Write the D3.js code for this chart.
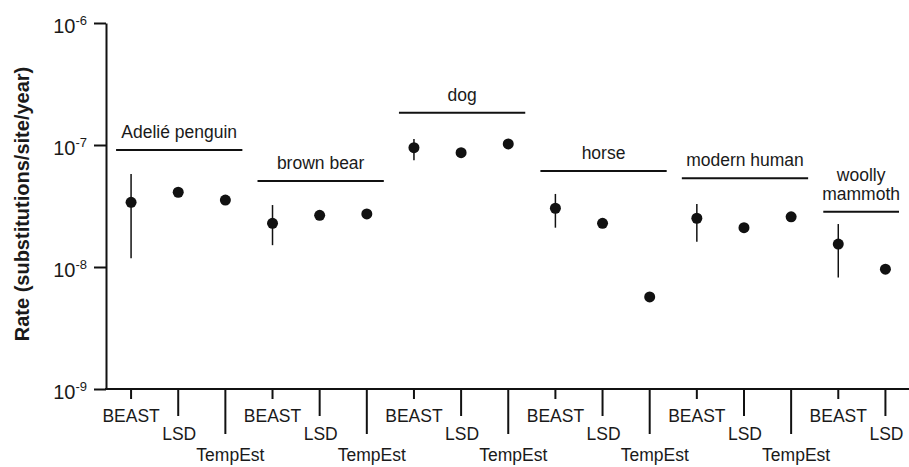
<!DOCTYPE html>
<html>
<head>
<meta charset="utf-8">
<script src="https://cdn.jsdelivr.net/npm/d3@7"></script>
<style>
  body { margin: 0; background: #fff; }
  text { font-family: "Liberation Sans", Arial, Helvetica, sans-serif; fill: #1a1a1a; }
</style>
</head>
<body>
<div id="chart"></div>
<script>
// data
var groups = ["Adelié penguin", "brown bear", "dog", "horse", "modern human", "woolly mammoth"];
var methods = ["BEAST", "LSD", "TempEst"];
var methodCount = [3, 3, 3, 3, 3, 2];
// point estimates per group, in method order
var rates = [
  [3.39e-8, 4.10e-8, 3.54e-8],
  [2.28e-8, 2.65e-8, 2.72e-8],
  [9.5e-8, 8.65e-8, 1.02e-7],
  [3.03e-8, 2.28e-8, 5.68e-9],
  [2.51e-8, 2.10e-8, 2.58e-8],
  [1.54e-8, 9.6e-9]
];
// BEAST credible intervals
var beastLower = [1.18e-8, 1.51e-8, 7.5e-8, 2.10e-8, 1.61e-8, 8.2e-9];
var beastUpper = [5.79e-8, 3.22e-8, 1.12e-7, 3.97e-8, 3.28e-8, 2.25e-8];
// height of the group label bar (rate units)
var groupBarRate = [9.1e-8, 5.07e-8, 1.84e-7, 6.12e-8, 5.33e-8, 2.84e-8];
var yTicks = [1e-9, 1e-8, 1e-7, 1e-6];

var svgWidth = 909;
var svgHeight = 467;

var svg = d3.select("#chart")
  .append("svg")
  .attr("width", svgWidth)
  .attr("height", svgHeight);

// flat list of slots along x
var slots = [];
groups.forEach(function(g, gi) {
  for (var m = 0; m < methodCount[gi]; m++) {
    slots.push({ key: gi + "-" + m, group: gi, method: methods[m], rate: rates[gi][m] });
  }
});

var x = d3.scaleBand()
  .domain(slots.map(d => d.key))
  .range([107.5, 909])
  .paddingInner(0)
  .paddingOuter(0);
var cx = d => x(d) + x.bandwidth() / 2;

var y = d3.scaleLog()
  .domain([1e-9, 1e-6])
  .range([389, 23]);

// y axis
var yAxis = svg.append("g")
  .attr("transform", "translate(106,0)")
  .call(d3.axisLeft(y).tickValues(yTicks).tickSize(12).tickSizeOuter(0).tickFormat(""));
yAxis.select(".domain").attr("stroke", "#111").attr("stroke-width", 2);
yAxis.selectAll(".tick line").attr("stroke", "#111").attr("stroke-width", 2);

var yLab = yAxis.selectAll(".tick").append("text")
  .attr("x", -19)
  .attr("dy", "0.45em")
  .attr("text-anchor", "end")
  .style("font-size", "20px");
yLab.append("tspan").text("10");
yLab.append("tspan")
  .attr("dy", "-0.55em")
  .style("font-size", "13px")
  .text(d => Math.round(Math.log10(d)));

// x axis
var tickLen = { BEAST: 10, LSD: 27, TempEst: 45 };
var labelOff = { BEAST: 32.5, LSD: 51, TempEst: 72 };
var labelShift = { BEAST: 0, LSD: 1, TempEst: 5 };
var xAxis = svg.append("g")
  .attr("transform", "translate(0,389)")
  .call(d3.axisBottom(x).tickSizeOuter(0).tickFormat(""));
xAxis.select(".domain").remove();
xAxis.append("line")
  .attr("x1", 105).attr("x2", 909)
  .attr("stroke", "#111").attr("stroke-width", 2);
xAxis.selectAll(".tick").each(function(k) {
  var s = slots.find(d => d.key === k);
  var t = d3.select(this);
  t.select("line")
    .attr("y2", tickLen[s.method])
    .attr("stroke", "#111").attr("stroke-width", 2);
  t.select("text").remove();
  t.append("text")
    .attr("x", labelShift[s.method])
    .attr("y", labelOff[s.method])
    .attr("text-anchor", "middle")
    .style("font-size", "17.5px")
    .text(s.method);
});

// y axis title
svg.append("text")
  .attr("transform", "translate(29,204) rotate(-90)")
  .attr("text-anchor", "middle")
  .style("font-size", "20px")
  .style("font-weight", "bold")
  .text("Rate (substitutions/site/year)");

// group bars and labels
groups.forEach(function(g, gi) {
  var first = gi + "-0";
  var last = gi + "-" + (methodCount[gi] - 1);
  var x1 = cx(first) - 15;
  var x2 = Math.min(cx(last) + 17, 899);
  var yb = y(groupBarRate[gi]);
  svg.append("line")
    .attr("x1", x1).attr("x2", x2)
    .attr("y1", yb).attr("y2", yb)
    .attr("stroke", "#111").attr("stroke-width", 2);
  var words = g === "woolly mammoth" ? ["woolly", "mammoth"] : [g];
  words.forEach(function(w, wi) {
    svg.append("text")
      .attr("x", (x1 + x2) / 2)
      .attr("y", yb - 12 - (words.length - 1 - wi) * 19)
      .attr("text-anchor", "middle")
      .style("font-size", "17.5px")
      .text(w);
  });
});

// BEAST error bars
svg.append("g")
  .selectAll("line")
  .data(groups)
  .enter()
  .append("line")
  .attr("x1", (d, i) => cx(i + "-0"))
  .attr("x2", (d, i) => cx(i + "-0"))
  .attr("y1", (d, i) => y(beastUpper[i]))
  .attr("y2", (d, i) => y(beastLower[i]))
  .attr("stroke", "#111")
  .attr("stroke-width", 1.5);

// points
svg.append("g")
  .selectAll("circle")
  .data(slots)
  .enter()
  .append("circle")
  .attr("cx", d => cx(d.key))
  .attr("cy", d => y(d.rate))
  .attr("r", 5.5)
  .attr("fill", "#111");
</script>
</body>
</html>
